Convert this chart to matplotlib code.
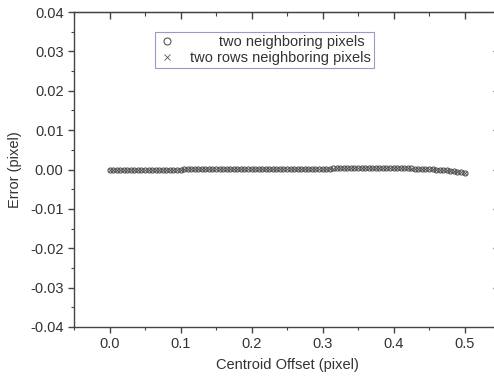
import numpy as np
import matplotlib
matplotlib.use("Agg")
import matplotlib.pyplot as plt
from matplotlib.ticker import MultipleLocator

plt.rcParams["font.family"] = ["Liberation Sans", "DejaVu Sans"]

# centroid offset (pixel), 0 .. 0.5 in steps of 0.005
offset = np.linspace(0.0, 0.5, 101)

# error values, in units of 1e-4 pixel
err_pixels = [
    0.0, 0.0, 0.0, 0.0, 0.0, 0.0, 0.0, 0.0, 0.0, 0.0,
    0.0, 0.0, 0.0, 0.0, 0.0, 0.0, 0.0, 0.0, 0.0, 0.0,
    0.0, 0.1, 0.1, 0.1, 0.2, 0.2, 0.2, 0.3, 0.3, 0.3,
    0.4, 0.4, 0.5, 0.5, 0.5, 0.6, 0.6, 0.7, 0.7, 0.8,
    0.8, 0.9, 0.9, 1.0, 1.0, 1.1, 1.2, 1.2, 1.3, 1.4,
    1.4, 1.5, 1.6, 1.7, 1.8, 1.8, 1.9, 2.0, 2.1, 2.2,
    2.3, 2.4, 2.5, 2.6, 2.7, 2.8, 2.9, 3.0, 3.0, 3.1,
    3.2, 3.3, 3.3, 3.4, 3.4, 3.5, 3.5, 3.5, 3.5, 3.4,
    3.4, 3.3, 3.2, 3.0, 2.8, 2.6, 2.3, 2.0, 1.6, 1.2,
    0.8, 0.3, -0.2, -0.9, -1.6, -2.4, -3.3, -4.3, -5.4, -6.6,
    -8.0,
]
err_rows = [
    0.0, 0.0, 0.0, 0.0, 0.0, 0.0, 0.0, 0.0, 0.0, 0.0,
    0.0, 0.0, 0.0, 0.0, 0.0, 0.0, 0.0, 0.0, 0.0, 0.0,
    0.0, 0.1, 0.1, 0.1, 0.1, 0.2, 0.2, 0.2, 0.3, 0.3,
    0.3, 0.4, 0.4, 0.5, 0.5, 0.5, 0.6, 0.6, 0.7, 0.7,
    0.8, 0.8, 0.9, 0.9, 1.0, 1.0, 1.1, 1.2, 1.2, 1.3,
    1.4, 1.4, 1.5, 1.6, 1.7, 1.7, 1.8, 1.9, 2.0, 2.1,
    2.2, 2.3, 2.4, 2.5, 2.6, 2.7, 2.8, 2.9, 2.9, 3.0,
    3.1, 3.2, 3.2, 3.3, 3.3, 3.4, 3.4, 3.4, 3.4, 3.3,
    3.3, 3.2, 3.1, 2.9, 2.7, 2.5, 2.2, 1.9, 1.5, 1.1,
    0.7, 0.2, -0.3, -1.0, -1.7, -2.5, -3.4, -4.4, -5.5, -6.7,
    -8.1,
]

labels = ["two neighboring pixels", "two rows neighboring pixels"]

fig = plt.figure(figsize=(4.94, 3.81), dpi=100)
ax = fig.add_axes([74 / 494, 54 / 381, 426 / 494, 315 / 381])

grey = "#555555"
ax.plot(offset, np.array(err_rows) * 1e-4, linestyle="none", marker="x",
        markersize=3.2, markeredgewidth=0.6, color=grey, label=labels[1])
ax.plot(offset, np.array(err_pixels) * 1e-4, linestyle="none", marker="o",
        markersize=3.6, markeredgewidth=0.8, markerfacecolor="none",
        markeredgecolor=grey, label=labels[0])

ax.set_xlim(-0.05, 0.55)
ax.set_ylim(-0.04, 0.04)
ax.xaxis.set_major_locator(MultipleLocator(0.1))
ax.xaxis.set_minor_locator(MultipleLocator(0.05))
ax.yaxis.set_major_locator(MultipleLocator(0.01))
ax.yaxis.set_minor_locator(MultipleLocator(0.005))
ax.xaxis.set_major_formatter(lambda v, p: f"{v:.1f}")
ax.yaxis.set_major_formatter(lambda v, p: f"{v:.2f}")

for s in ax.spines.values():
    s.set_color("#444444")
    s.set_linewidth(1.0)

# left/bottom ticks point out, top/right ticks point in (Origin style)
ax.tick_params(which="both", direction="out", colors="#444444",
               labelcolor="#333333", labelsize=10.5)
ax.tick_params(which="major", length=4, width=1.0)
ax.tick_params(which="minor", length=2.5, width=0.8)

ax2 = ax.secondary_xaxis("top")
ax2.set_xticks(ax.get_xticks(minor=True), minor=True)
ax2.tick_params(which="both", direction="in", labeltop=False,
                colors="#444444")
ax2.tick_params(which="major", length=5, width=1.0)
ax2.tick_params(which="minor", length=3, width=0.8)
ay2 = ax.secondary_yaxis("right")
ay2.set_yticks(ax.get_yticks(minor=True), minor=True)
ay2.tick_params(which="both", direction="in", labelright=False,
                colors="#444444")
ay2.tick_params(which="major", length=5, width=1.0)
ay2.tick_params(which="minor", length=3, width=0.8)

ax.set_xlabel("Centroid Offset (pixel)", fontsize=10.5, color="#333333",
              labelpad=5)
ax.set_ylabel("Error (pixel)", fontsize=10.5, color="#333333", labelpad=6)

handles, _ = ax.get_legend_handles_labels()
leg = ax.legend([handles[1], handles[0]],
                ["       " + labels[0], labels[1]],
                loc="upper left", bbox_to_anchor=(0.19, 0.937),
                fontsize=10.5, frameon=True, fancybox=False,
                markerscale=1.4, handlelength=1.2, handletextpad=1.0,
                borderpad=0.2, labelspacing=0.15, borderaxespad=0)
leg.get_frame().set_edgecolor("#8080c0")
leg.get_frame().set_linewidth(0.8)
for t in leg.get_texts():
    t.set_color("#333333")

fig.savefig("out.png", dpi=100)
